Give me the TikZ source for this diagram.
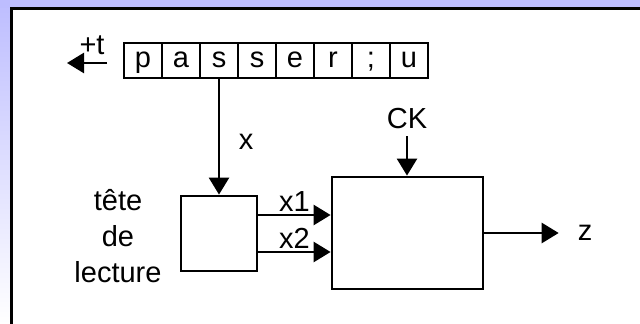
\documentclass[tikz,border=0pt]{standalone}
\usepackage{fontspec}
\setmainfont{Liberation Sans}
\usetikzlibrary{arrows.meta,positioning}
\definecolor{cSlide}{HTML}{BDBDFF}
\definecolor{cInk}{HTML}{000000}
\tikzset{
  cell/.style ={draw=cInk, line width=1.3pt, minimum width=19pt, minimum height=17.5pt,
                inner sep=0pt, outer sep=0pt, text height=10pt, text depth=2.8pt},
  bloc/.style ={draw=cInk, line width=1.4pt, inner sep=0pt, fill=white},
  arrow/.style={-{Triangle[length=8.5pt,width=10pt]}, line width=1.3pt, draw=cInk},
}

\begin{document}
\begin{tikzpicture}[x=0.5pt, y=-0.5pt, every node/.style={font=\fontsize{14.5}{18}\selectfont}]
        \useasboundingbox (0,0) rectangle (640,324);
        \clip (0,0) rectangle (640,324);
        % fond du transparent
        \fill[white] (0,0) rectangle (640,324);
        \shade[top color=cSlide, bottom color=white] (0,0) rectangle (12,324);
        \fill[cSlide] (0,0) rectangle (640,8);
        \draw[line width=1.4pt, fill=white] (11.5,8.5) rectangle (700,400);
        % ruban
        \node[cell] (c1) at (143,60.5){p};
        \node[cell, right=0pt of c1] (c2){a};
        \node[cell, right=0pt of c2] (c3){s};
        \node[cell, right=0pt of c3] (c4){s};
        \node[cell, right=0pt of c4] (c5){e};
        \node[cell, right=0pt of c5] (c6){r};
        \node[cell, right=0pt of c6] (c7){;};
        \node[cell, right=0pt of c7] (c8){u};
        \coordinate (t0) at (107,63); \coordinate (t1) at (67,63);
        \draw[arrow] (t0)--(t1); \node (t) at (92,45){+t};
        % blocs
        \node[bloc, minimum width=38pt, minimum height=37.5pt] (lect) at (219,233.5){};
        \node[bloc, minimum width=75.5pt, minimum height=56pt] (mach) at (407.5,233){};
        \node[align=center] (tete) at (118,236){tête\\de\\lecture};
        \node (ck) at (407,119){CK};
        \node (z) at (585,233){z};
        % connexions
        \draw[arrow] (c3.south)--(lect.north) node[pos=0.55, right=6pt]{x};
        \draw[arrow] ([yshift=9.25pt]lect.east) coordinate (a1) -- (a1 -| mach.west)
              node[midway, above=-2pt]{x1};
        \draw[arrow] ([yshift=-9.25pt]lect.east) coordinate (a2) -- (a2 -| mach.west)
              node[midway, above=-2pt]{x2};
        \draw[arrow] (ck.south)--(ck |- mach.north);
        \draw[arrow, shorten >=6pt] (mach.east)--(z.west);
      \end{tikzpicture}
\end{document}
